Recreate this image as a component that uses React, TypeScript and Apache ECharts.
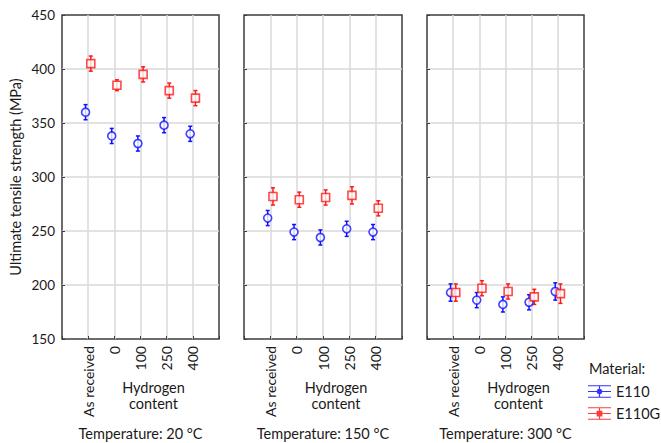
import React, { useEffect, useRef } from "react";
import * as echarts from "echarts";

const categories = ["As received", "0", "100", "250", "400"];
const temperatures = ["20", "150", "300"];

const e110_20 = [360, 338, 331, 348, 340];
const e110g_20 = [405, 385, 395, 380, 373];
const e110_150 = [262, 249, 244, 252, 249];
const e110g_150 = [282, 279, 281, 283, 271];
const e110_300 = [193, 186, 182, 184, 194];
const e110g_300 = [193, 197, 194, 189, 192];

const err_e110_20 = [7, 7, 7, 7, 7];
const err_e110g_20 = [7, 5, 7, 7, 7];
const err_e110_150 = [7, 7, 7, 7, 7];
const err_e110g_150 = [8, 7, 7, 8, 7];
const err_e110_300 = [8, 7, 7, 7, 8];
const err_e110g_300 = [8, 7, 7, 7, 9];

const yTicks = [150, 200, 250, 300, 350, 400, 450];

const BLUE = "#1010ff";
const RED = "#ff1a1a";
const FONT = "Lato";
const TXT = "#1a1a1a";
const FS_TEXT = 14.5;
const FS_TICK = 13.5;
const FS_CAT = 14;

const panels = [
  { left: 62, width: 157, e110: e110_20, e110g: e110g_20, eb: err_e110_20, egb: err_e110g_20 },
  { left: 244, width: 158, e110: e110_150, e110g: e110g_150, eb: err_e110_150, egb: err_e110g_150 },
  { left: 427, width: 157, e110: e110_300, e110g: e110g_300, eb: err_e110_300, egb: err_e110g_300 },
];

const OFF = 0.1;

function errorRender(color: string) {
  return (params: any, api: any) => {
    const x = api.value(0);
    const lo = api.coord([x, api.value(1)]);
    const hi = api.coord([x, api.value(2)]);
    const cap = 2;
    const style = { stroke: color, lineWidth: 1.5, fill: "none" };
    return {
      type: "group",
      children: [
        { type: "line", shape: { x1: lo[0], y1: lo[1], x2: hi[0], y2: hi[1] }, style },
        { type: "line", shape: { x1: lo[0] - cap, y1: lo[1], x2: lo[0] + cap, y2: lo[1] }, style },
        { type: "line", shape: { x1: hi[0] - cap, y1: hi[1], x2: hi[0] + cap, y2: hi[1] }, style },
      ],
    };
  };
}

export default function App() {
  const ref = useRef<HTMLDivElement>(null);
  useEffect(() => {
    if (!ref.current) return;
    const chart = echarts.init(ref.current, null, { renderer: "svg" });

    const grids: any[] = [];
    const xAxes: any[] = [];
    const yAxes: any[] = [];
    const series: any[] = [];
    const graphics: any[] = [];

    panels.forEach((p, i) => {
      grids.push({
        left: p.left,
        top: 15,
        width: p.width,
        height: 324,
        show: true,
        borderColor: "#3c3c3c",
        borderWidth: 1.5,
        backgroundColor: "transparent",
      });
      xAxes.push({
        type: "value",
        gridIndex: i,
        min: 0,
        max: 6,
        interval: 1,
        axisLine: { show: false },
        axisTick: { show: true, inside: true, length: 3, lineStyle: { color: "#3c3c3c", width: 1 } },
        splitLine: { show: true, showMinLine: false, showMaxLine: false, lineStyle: { color: "#d9d9d9", width: 1.5 } },
        axisLabel: {
          rotate: 90,
          margin: 7,
          fontFamily: FONT,
          fontSize: FS_CAT,
          color: TXT,
          formatter: (v: number) => (v >= 1 && v <= 5 ? categories[v - 1] : ""),
        },
      });
      yAxes.push({
        type: "value",
        gridIndex: i,
        min: yTicks[0],
        max: yTicks[yTicks.length - 1],
        interval: 50,
        axisLine: { show: false },
        axisTick: { show: true, inside: true, length: 3, lineStyle: { color: "#3c3c3c", width: 1 } },
        splitLine: { show: true, showMinLine: false, showMaxLine: false, lineStyle: { color: "#d9d9d9", width: 1.5 } },
        axisLabel: {
          show: i === 0,
          margin: 7,
          fontFamily: FONT,
          fontSize: FS_TICK,
          color: TXT,
        },
        name: i === 0 ? "Ultimate tensile strength (MPa)" : "",
        nameLocation: "middle",
        nameGap: 39,
        nameTextStyle: { fontFamily: FONT, fontSize: FS_TEXT, color: TXT },
      });

      series.push({
        type: "custom",
        name: "E110 err",
        xAxisIndex: i,
        yAxisIndex: i,
        renderItem: errorRender(BLUE),
        encode: { x: 0, y: [1, 2] },
        data: p.e110.map((v, k) => [k + 1 - OFF, v - p.eb[k], v + p.eb[k]]),
        z: 3,
      });
      series.push({
        type: "custom",
        name: "E110G err",
        xAxisIndex: i,
        yAxisIndex: i,
        renderItem: errorRender(RED),
        encode: { x: 0, y: [1, 2] },
        data: p.e110g.map((v, k) => [k + 1 + OFF, v - p.egb[k], v + p.egb[k]]),
        z: 3,
      });
      series.push({
        type: "scatter",
        name: "E110",
        xAxisIndex: i,
        yAxisIndex: i,
        symbol: "circle",
        symbolSize: 8,
        itemStyle: { color: "#ffffff", borderColor: BLUE, borderWidth: 1.6 },
        data: p.e110.map((v, k) => [k + 1 - OFF, v]),
        z: 4,
      });
      series.push({
        type: "scatter",
        name: "E110G",
        xAxisIndex: i,
        yAxisIndex: i,
        symbol: "rect",
        symbolSize: 8,
        itemStyle: { color: "#ffffff", borderColor: RED, borderWidth: 1.6 },
        data: p.e110g.map((v, k) => [k + 1 + OFF, v]),
        z: 4,
      });

      const cx = p.left + p.width / 2;
      graphics.push({
        type: "text",
        x: cx + 13,
        y: 395,
        style: {
          text: "Hydrogen\ncontent",
          fontFamily: FONT,
          fontSize: FS_TEXT,
          fill: TXT,
          align: "center",
          verticalAlign: "middle",
          lineHeight: 16,
        },
      });
      graphics.push({
        type: "text",
        x: cx,
        y: 433,
        style: {
          text: `Temperature: ${temperatures[i]} °C`,
          fontFamily: FONT,
          fontSize: FS_TEXT,
          fill: TXT,
          align: "center",
          verticalAlign: "middle",
        },
      });
    });

    graphics.push({
      type: "text",
      x: 589,
      y: 368,
      style: {
        text: "Material:",
        fontFamily: FONT,
        fontSize: FS_TEXT,
        fill: TXT,
        align: "left",
        verticalAlign: "middle",
      },
    });

    const iconCircle =
      "path://M0,0H24V1.2H0Z M0,6H24V7.2H0Z M0,12H24V13.2H0Z M11.4,0H12.6V13.2H11.4Z M12,3.6A3,3,0,1,1,11.99,3.6Z";
    const iconRect =
      "path://M0,0H24V1.2H0Z M0,6H24V7.2H0Z M0,12H24V13.2H0Z M11.4,0H12.6V13.2H11.4Z M9,3.6H15V9.6H9Z";

    chart.setOption({
      animation: false,
      backgroundColor: "#ffffff",
      grid: grids,
      xAxis: xAxes,
      yAxis: yAxes,
      series,
      graphic: graphics,
      legend: {
        orient: "vertical",
        left: 588,
        top: 384,
        padding: 0,
        itemWidth: 23,
        itemHeight: 13,
        itemGap: 7,
        textStyle: { fontFamily: FONT, fontSize: FS_TEXT, color: TXT },
        data: [
          { name: "E110", icon: iconCircle, itemStyle: { color: BLUE, borderWidth: 0, opacity: 0.85 } },
          { name: "E110G", icon: iconRect, itemStyle: { color: RED, borderWidth: 0, opacity: 0.85 } },
        ],
        selectedMode: false,
      },
    });
    return () => chart.dispose();
  }, []);

  return (
    <div
      ref={ref}
      style={{ position: "fixed", left: 0, top: 0, width: 661, height: 443, background: "#fff" }}
    />
  );
}
